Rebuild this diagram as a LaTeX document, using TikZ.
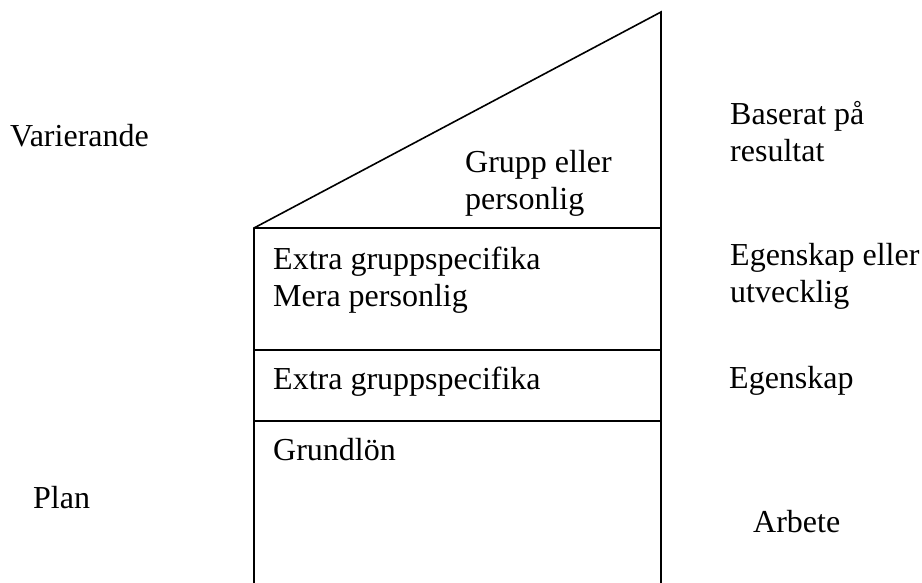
\documentclass[tikz,border=0pt]{standalone}
\usepackage{fontspec}
\setmainfont{Liberation Serif}
\begin{document}
\begin{tikzpicture}[x=1pt,y=-1pt,
  lbl/.style={anchor=base west,inner sep=0pt,align=left,font=\fontsize{32}{37}\selectfont},
  edge/.style={line width=1.6pt}]
\useasboundingbox (0,0) rectangle (922,583);
% shapes
\draw[edge] (254,583) -- (254,228) -- (661,12) -- (661,583);
\draw[edge] (254,228) -- (661,228);
\draw[edge] (254,350) -- (661,350);
\draw[edge] (254,421) -- (661,421);
% left labels
\node[lbl] (var) at (10,147) {Varierande};
\node[lbl] (plan) at (33,508) {Plan};
% inside (base anchor = last line)
\node[lbl] (grupp) at (465,210) {Grupp eller\\personlig};
\node[lbl] (extra1) at (273,306) {Extra gruppspecifika\\Mera personlig};
\node[lbl] (extra2) at (273,389) {Extra gruppspecifika};
\node[lbl] (grund) at (273,460) {Grundlön};
% right labels
\node[lbl] (bas) at (730,162) {Baserat på\\resultat};
\node[lbl] (egen1) at (730,302) {Egenskap eller\\utvecklig};
\node[lbl] (egen2) at (729,388) {Egenskap};
\node[lbl] (arb) at (753,532) {Arbete};
\end{tikzpicture}
\end{document}
